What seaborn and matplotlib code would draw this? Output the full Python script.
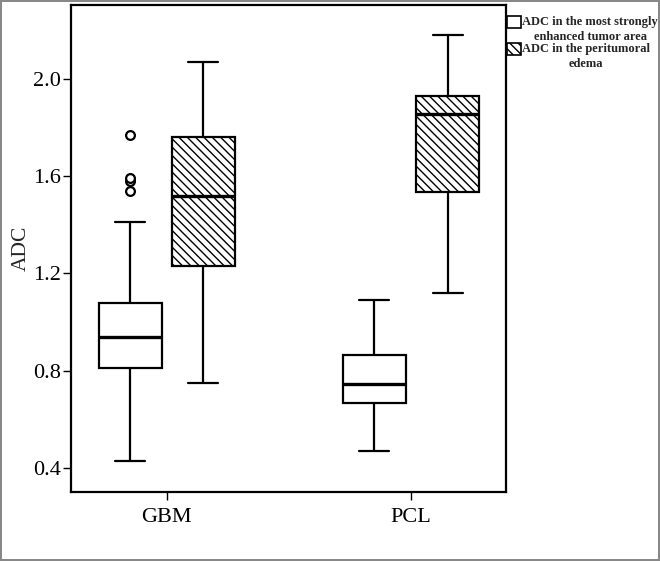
import pandas as pd
import matplotlib
matplotlib.use("Agg")
import matplotlib.pyplot as plt
import seaborn as sns
from matplotlib.patches import Patch, Rectangle
from matplotlib.legend_handler import HandlerPatch

# five-number summaries (lower whisker, Q1, median, Q3, upper whisker)
groups = ["GBM", "PCL"]
regions = ["ADC in the most strongly\nenhanced tumor area", "ADC in the peritumoral\nedema"]
gbm_enhanced = [0.43, 0.81, 0.94, 1.08, 1.41]
gbm_edema = [0.75, 1.23, 1.52, 1.76, 2.07]
pcl_enhanced = [0.47, 0.67, 0.745, 0.865, 1.09]
pcl_edema = [1.12, 1.535, 1.855, 1.93, 2.18]
gbm_enhanced_outliers = [1.54, 1.58, 1.59, 1.77]

rows = []
for g, r, vals in [("GBM", regions[0], gbm_enhanced), ("GBM", regions[1], gbm_edema),
                   ("PCL", regions[0], pcl_enhanced), ("PCL", regions[1], pcl_edema)]:
    for v in vals:
        rows.append({"group": g, "region": r, "ADC": v})
df = pd.DataFrame(rows)

sns.set_style("ticks")
plt.rcParams["font.family"] = ["Liberation Serif", "DejaVu Serif"]
plt.rcParams["hatch.linewidth"] = 1.0

fig = plt.figure(figsize=(6.6, 5.61), dpi=100, edgecolor="#888888", linewidth=1.5)
ax = fig.add_axes([0.1076, 0.1235, 0.659, 0.8667])

pal = {regions[0]: "white", regions[1]: "white"}
sns.boxplot(data=df, x="group", y="ADC", hue="region", order=groups, hue_order=regions,
            palette=pal, saturation=1, width=0.6, gap=0.14, dodge=True,
            linecolor="black", linewidth=1.6, legend=False, ax=ax, capwidths=0.123,
            whis=(0, 100), medianprops={"linewidth": 2.4})

# hatch the edema boxes (right of each category centre), remember GBM enhanced box centre
gbm_enh_x = None
for p in ax.patches:
    xs = p.get_path().vertices[:, 0]
    cx = xs.mean()
    if cx - round(cx) > 0:
        p.set_hatch("\\\\\\\\")
    elif round(cx) == 0:
        gbm_enh_x = (xs.min() + xs.max()) / 2

# outliers of the GBM enhanced-area box
sns.scatterplot(x=[gbm_enh_x] * len(gbm_enhanced_outliers), y=gbm_enhanced_outliers, ax=ax,
                marker="o", s=40, facecolor="white", edgecolor="black", linewidth=1.6,
                zorder=5, legend=False)

ax.set_xlim(-0.392, 1.389)
ax.set_ylim(0.304, 2.30)
ax.set_yticks([0.4, 0.8, 1.2, 1.6, 2.0])
ax.set_yticklabels(["0.4", "0.8", "1.2", "1.6", "2.0"])
ax.set_xlabel("")
ax.set_ylabel("ADC", fontsize=15.5, labelpad=2)
ax.tick_params(axis="both", labelsize=16, length=6, width=1, colors="black", pad=1)
ax.tick_params(axis="x", pad=6)
for s in ax.spines.values():
    s.set_visible(True)
    s.set_linewidth(1.6)
    s.set_color("black")


def top_square(legend, orig_handle, xdescent, ydescent, width, height, fontsize):
    # keep the legend square beside the first line of a two-line label
    return Rectangle((-xdescent, -ydescent + 0.6 * fontsize), width, height)


handles = [Patch(facecolor="white", edgecolor="black", linewidth=1.2),
           Patch(facecolor="white", edgecolor="black", linewidth=1.2, hatch="\\\\\\\\")]
leg = ax.legend(handles, regions, loc="upper left", bbox_to_anchor=(1.0, 0.981),
                frameon=False, prop={"weight": "bold", "size": 9},
                handlelength=1.1, handleheight=1.1, handletextpad=0.1,
                labelspacing=0.05, borderpad=0, borderaxespad=0.1,
                handler_map={Patch: HandlerPatch(patch_func=top_square)})
for t in leg.get_texts():
    t.set_multialignment("center")
    t.set_linespacing(1.28)

fig.savefig("out.png", dpi=100)
